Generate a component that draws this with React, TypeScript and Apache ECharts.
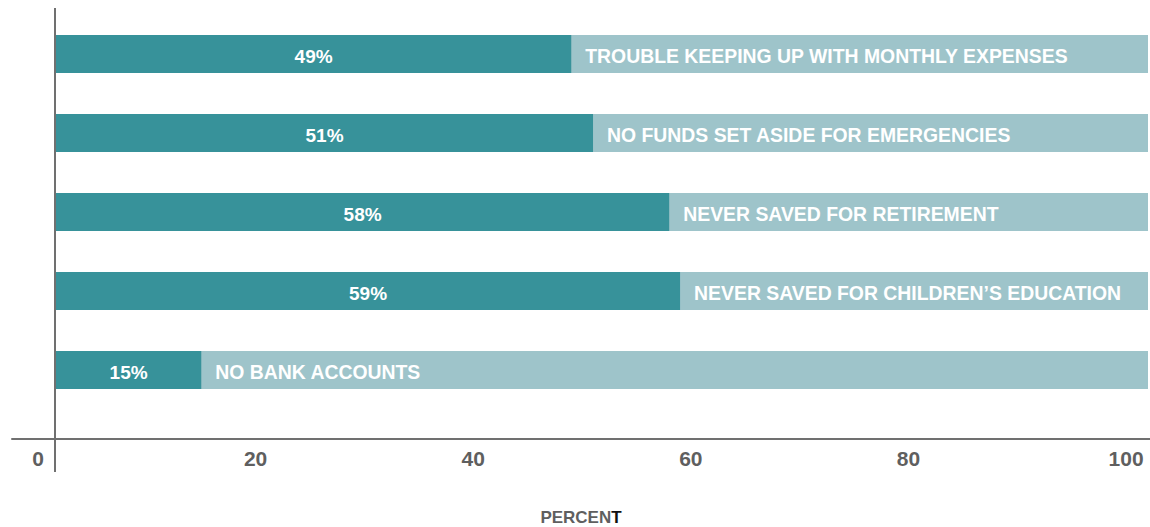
import React, { useEffect, useRef } from "react";
import * as echarts from "echarts";

const categories = [
  "TROUBLE KEEPING UP WITH MONTHLY EXPENSES",
  "NO FUNDS SET ASIDE FOR EMERGENCIES",
  "NEVER SAVED FOR RETIREMENT",
  "NEVER SAVED FOR CHILDREN\u2019S EDUCATION",
  "NO BANK ACCOUNTS",
];
const values = [49, 51, 58, 59, 15];
const tickValues = [0, 20, 40, 60, 80, 100];
const axisName = "PERCENT";

const DARK = "#37929a";
const LIGHT = "#9ec4ca";
const AXIS = "#707070";
const FONT = "'Liberation Sans', Arial, sans-serif";

export default function App() {
  const ref = useRef<HTMLDivElement>(null);
  useEffect(() => {
    if (!ref.current) return;
    const chart = echarts.init(ref.current, null, { renderer: "svg" });
    const rest = values.map((v) => 100 - v);
    chart.setOption({
      animation: false,
      grid: [
        { left: 12, right: 0, top: 14.5, height: 424.5, outerBoundsMode: "none", containLabel: false },
        { left: 56, right: 2, top: 14.5, height: 395, outerBoundsMode: "none", containLabel: false },
      ],
      xAxis: [
        {
          gridIndex: 0,
          type: "value",
          min: -2.39,
          max: 102.2,
          splitLine: { show: false },
          axisTick: { show: false },
          axisLine: { show: true, lineStyle: { color: AXIS, width: 2 } },
          axisLabel: {
            customValues: tickValues,
            color: "#5f5f5f",
            fontFamily: FONT,
            fontWeight: "bold",
            fontSize: 21,
            margin: 9,
          },
          name: "{a|" + axisName.slice(0, -1) + "}{b|" + axisName.slice(-1) + "}",
          nameLocation: "middle",
          nameGap: 70,
          nameTextStyle: {
            fontFamily: FONT,
            fontWeight: "bold",
            fontSize: 17,
            rich: {
              a: { color: "#5f5f5f", fontFamily: FONT, fontWeight: "bold", fontSize: 17 },
              b: { color: "#111", fontFamily: FONT, fontWeight: "bold", fontSize: 17 },
            },
          },
        },
        {
          gridIndex: 1,
          type: "value",
          min: 1.65,
          max: 102.0,
          show: false,
        },
      ],
      yAxis: [
        { gridIndex: 0, type: "category", data: categories, show: false },
        {
          gridIndex: 1,
          type: "category",
          data: categories,
          inverse: true,
          show: false,
        },
      ],
      series: [
        {
          type: "bar",
          xAxisIndex: 1,
          yAxisIndex: 1,
          stack: "s",
          data: values,
          barWidth: 38,
          clip: true,
          itemStyle: { color: DARK },
          showBackground: true,
          backgroundStyle: { color: LIGHT },
          label: {
            show: true,
            position: "inside",
            offset: [0, 2],
            formatter: "{c}%",
            color: "#fff",
            fontFamily: FONT,
            fontWeight: "bold",
            fontSize: 19,
          },
        },
        {
          type: "bar",
          xAxisIndex: 1,
          yAxisIndex: 1,
          stack: "s",
          data: rest,
          barWidth: 38,
          itemStyle: { color: "rgba(0,0,0,0)" },
          label: {
            show: true,
            position: "insideLeft",
            distance: 14,
            offset: [0, 2],
            formatter: (p: any) => p.name,
            color: "#fff",
            fontFamily: FONT,
            fontWeight: "bold",
            fontSize: 19.4,
          },
        },
      ],
      graphic: [
        {
          type: "line",
          shape: { x1: 55, y1: 8, x2: 55, y2: 472 },
          style: { stroke: AXIS, lineWidth: 2 },
        },
      ],
    });
    return () => chart.dispose();
  }, []);
  return <div ref={ref} style={{ width: 1150, height: 527, position: "absolute", left: 0, top: 0 }} />;
}
